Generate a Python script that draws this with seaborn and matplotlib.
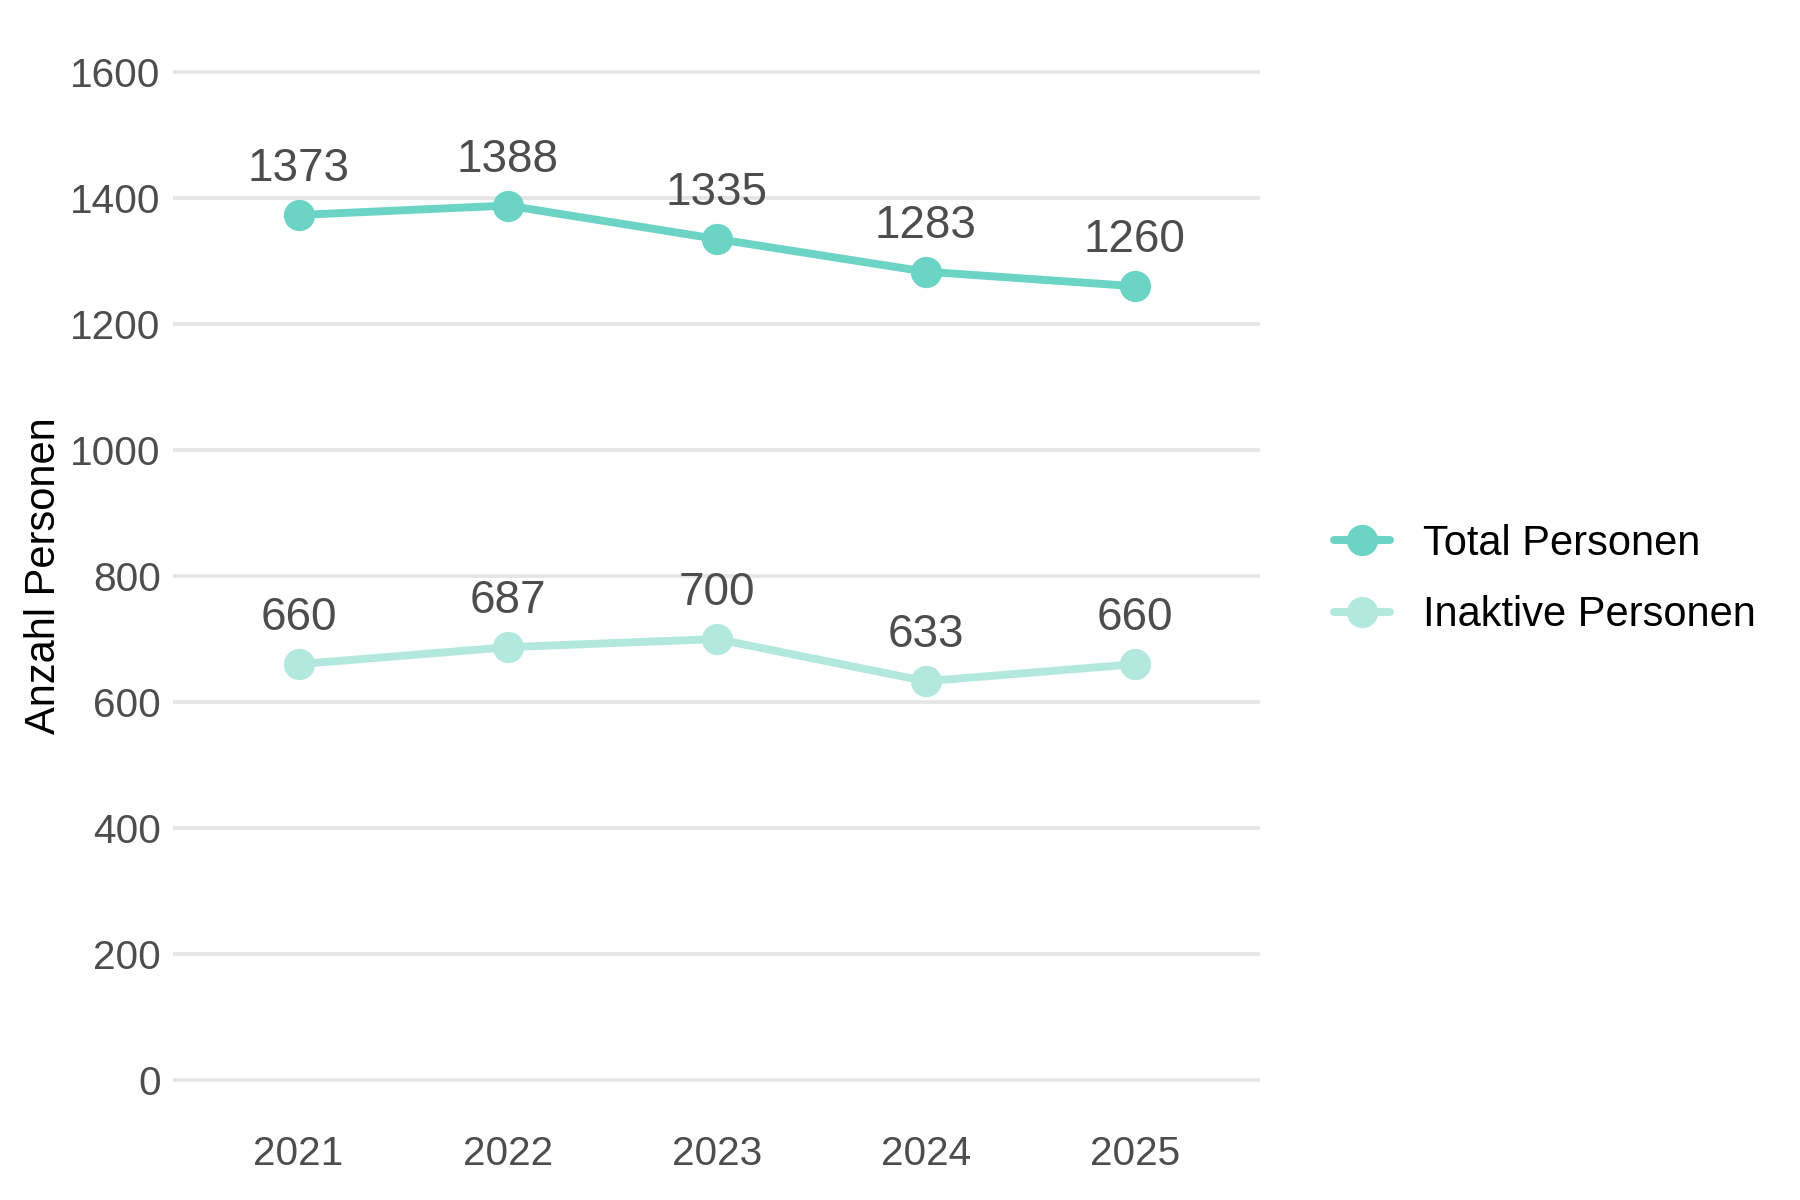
import pandas as pd
import matplotlib.pyplot as plt
import seaborn as sns

# data
years = [2021, 2022, 2023, 2024, 2025]
total = [1373, 1388, 1335, 1283, 1260]
inactive = [660, 687, 700, 633, 660]
series = ['Total Personen', 'Inaktive Personen']
colors = {'Total Personen': '#6BD4C4', 'Inaktive Personen': '#B3E8DF'}

df = pd.DataFrame({
    'Jahr': years * 2,
    'Anzahl': total + inactive,
    'Serie': [series[0]] * len(years) + [series[1]] * len(years),
})

sns.set_theme(style='white')
plt.rcParams['font.family'] = ['Liberation Sans', 'DejaVu Sans']

fig = plt.figure(figsize=(12, 8), dpi=150)
ax = fig.add_axes([0.0962, 0.058, 0.604, 0.924])

sns.lineplot(data=df, x='Jahr', y='Anzahl', hue='Serie', hue_order=series,
             palette=colors, marker='o', markersize=15, markeredgewidth=0,
             linewidth=3.8, ax=ax)

# value labels
for _, row in df.iterrows():
    ax.annotate(str(row['Anzahl']), (row['Jahr'], row['Anzahl']),
                xytext=(0, 22), textcoords='offset points',
                ha='center', va='center', fontsize=22, color='#4D4D4D')

ax.set_xlim(2020.4, 2025.6)
ax.set_ylim(-80, 1680)
ax.set_xticks(years)
ax.set_yticks(range(0, 1601, 200))
ax.yaxis.grid(True, color='#E5E5E5', linewidth=1.8)
ax.xaxis.grid(False)
for s in ax.spines.values():
    s.set_visible(False)
ax.tick_params(axis='both', labelsize=19.5, labelcolor='#4D4D4D', length=0)
ax.tick_params(axis='x', pad=2)
ax.tick_params(axis='y', pad=6)
ax.set_xlabel('')
ax.set_ylabel('Anzahl Personen', fontsize=20, color='black', labelpad=3)

leg = ax.legend(title=None, frameon=False, fontsize=20,
                loc='center left', bbox_to_anchor=(0.72, 0.517),
                bbox_transform=fig.transFigure, handlelength=1.35,
                labelspacing=0.75, handletextpad=0.8)
for t in leg.get_texts():
    t.set_color('black')

fig.savefig('out.png', dpi=150)
